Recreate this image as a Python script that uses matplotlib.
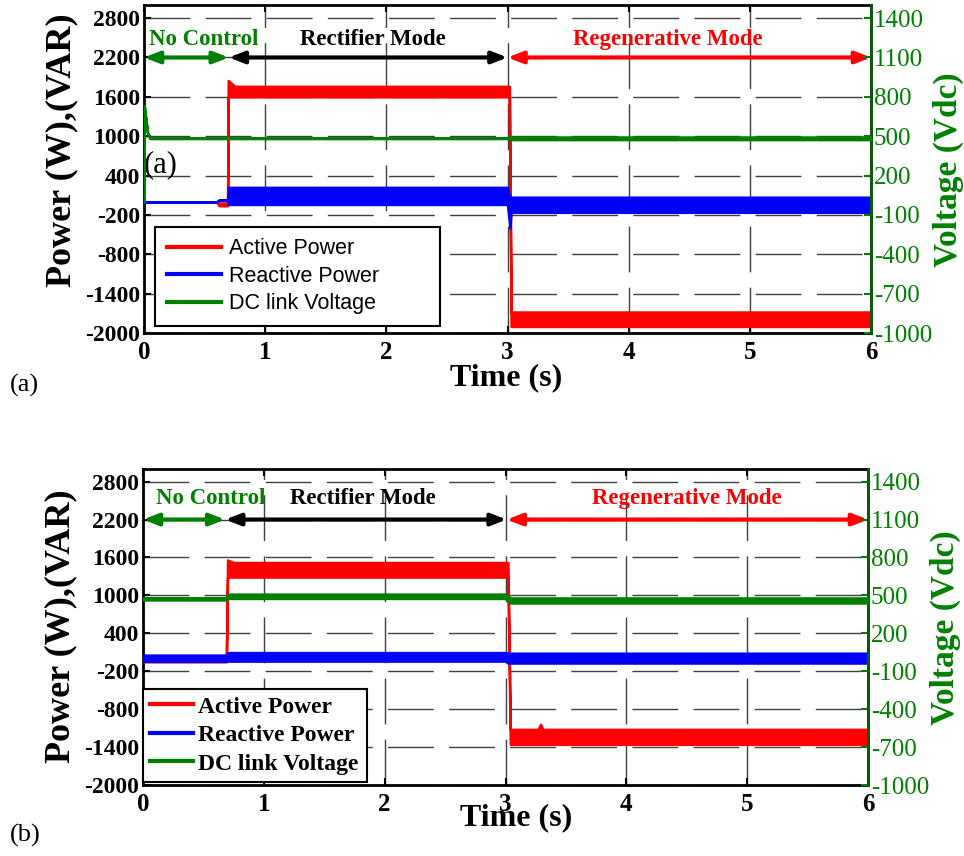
import matplotlib
matplotlib.use('Agg')
import matplotlib.pyplot as plt
from matplotlib.lines import Line2D

plt.rcParams['axes.unicode_minus'] = False

SERIF = 'Liberation Serif'
SANS = 'Liberation Sans'
RED, BLUE, GREEN = '#ff0000', '#0000ff', '#008000'

# ---------------- data: panel (a) ----------------
a_act_t  = [0.00, 0.60, 0.62, 0.69, 0.695, 0.75, 3.015, 3.03, 6.00]
a_act_lo = [0, 0, -60, -60, 1600, 1600, 1600, -1900, -1900]
a_act_hi = [0, 0, -20, -20, 1850, 1760, 1760, -1680, -1680]

a_rea_t  = [0.00, 0.60, 0.62, 0.69, 0.695, 3.00, 3.02, 3.03, 6.00]
a_rea_lo = [0, 0, 20, 20, -40, -40, -400, -160, -160]
a_rea_hi = [0, 0, 30, 30, 220, 220, 60, 70, 70]

a_dc_t  = [0.00, 0.002, 0.03, 0.05, 3.00, 3.02, 6.00]
a_dc_lo = [0, 730, 520, 482, 482, 474, 474]
a_dc_hi = [0, 730, 520, 488, 488, 494, 494]

# ---------------- data: panel (b) ----------------
b_act_t  = [0.00, 0.69, 0.70, 0.75, 3.02, 3.04, 3.27, 3.29, 3.31, 6.00]
b_act_lo = [-50, -50, 1290, 1290, 1290, -1356, -1356, -1356, -1356, -1356]
b_act_hi = [40, 40, 1560, 1520, 1520, -1120, -1120, -1040, -1120, -1120]

b_rea_t  = [0.00, 0.69, 0.70, 3.00, 3.02, 6.00]
b_rea_lo = [-43, -43, -40, -40, -70, -70]
b_rea_hi = [55, 55, 95, 95, 85, 85]

b_dc_t  = [0.00, 0.69, 0.70, 3.00, 3.04, 6.00]
b_dc_lo = [464, 464, 476, 476, 440, 440]
b_dc_hi = [482, 482, 510, 510, 480, 480]

legend_labels = ['Active Power', 'Reactive Power', 'DC link Voltage']
left_ticks = [-2000, -1400, -800, -200, 400, 1000, 1600, 2200, 2800]
right_ticks = [-1000, -700, -400, -100, 200, 500, 800, 1100, 1400]
x_ticks = [0, 1, 2, 3, 4, 5, 6]
modes = ['No Control', 'Rectifier Mode', 'Regenerative Mode']
mode_colors = [GREEN, 'black', RED]
a_mode_bounds = [0.0, 0.70, 3.0, 6.0]
b_mode_bounds = [0.0, 0.68, 3.01, 6.0]
a_mode_text_x = [0.49, 1.89, 4.32]
b_mode_text_x = [0.56, 1.82, 4.50]

W, H = 964, 856
fig = plt.figure(figsize=(W / 100, H / 100), dpi=100)


def px(x, y):
    return x / W, 1 - y / H


def band(ax, t, lo, hi, color):
    ax.fill_between(t, lo, hi, facecolor=color, edgecolor=color, linewidth=1.8, zorder=3)


def panel(rect, act, rea, dc, bounds, text_x, text_y, legend_font, legend_box,
          handlelength, handletextpad, labelspacing, borderpad):
    ax = fig.add_axes(rect)
    ax2 = ax.twinx()
    ax.set_xlim(0, 6)
    ax.set_ylim(-2000, 3000)
    ax2.set_ylim(-1000, 1500)
    ax.set_xticks(x_ticks)
    ax.set_yticks(left_ticks)
    ax2.set_yticks(right_ticks)
    ax.grid(True, color='#404040', linestyle=(0, (33, 11)), linewidth=1.0)
    ax.set_axisbelow(True)

    band(ax, *act, RED)
    band(ax, *rea, BLUE)
    band(ax2, *dc, GREEN)

    ax.tick_params(axis='both', direction='in', length=5, width=1.5, top=True,
                   labelsize=17, pad=3)
    ax.tick_params(axis='x', labelsize=18, pad=6)
    for lab in ax.get_xticklabels() + ax.get_yticklabels():
        lab.set_fontfamily(SERIF)
        lab.set_fontweight('bold')
    ax2.tick_params(axis='y', direction='in', length=5, width=1.5, colors=GREEN,
                    labelsize=18, pad=2)
    for lab in ax2.get_yticklabels():
        lab.set_fontfamily(SERIF)
    for s in ax.spines.values():
        s.set_linewidth(2)
    for k, s in ax2.spines.items():
        s.set_linewidth(2)
        if k != 'right':
            s.set_visible(False)
    ax2.spines['right'].set_color('#0b5e0b')

    # mode arrows and labels
    for i in range(3):
        ax.annotate('', xy=(bounds[i + 1], 2200), xytext=(bounds[i], 2200),
                    arrowprops=dict(arrowstyle='<|-|>,head_length=0.9,head_width=0.35',
                                    color=mode_colors[i], lw=3, shrinkA=0, shrinkB=0),
                    annotation_clip=False, zorder=5)
        ax.text(text_x[i], text_y, modes[i], color=mode_colors[i], ha='center', va='center',
                fontsize=16.5, fontweight='bold', fontfamily=SERIF, zorder=5)

    handles = [Line2D([], [], color=c, lw=3) for c in (RED, BLUE, GREEN)]
    leg = ax2.legend(handles, legend_labels, loc='lower left', bbox_to_anchor=legend_box,
                     mode='expand', borderaxespad=0, fancybox=False, framealpha=1,
                     edgecolor='black', prop=legend_font, handlelength=handlelength,
                     handletextpad=handletextpad, labelspacing=labelspacing,
                     borderpad=borderpad)
    leg.get_frame().set_linewidth(1.5)
    leg.set_zorder(10)
    return ax, ax2


# ---- panel (a) ----
axa, axa2 = panel([144 / W, 1 - 333 / H, 727 / W, 328 / H],
                  (a_act_t, a_act_lo, a_act_hi), (a_rea_t, a_rea_lo, a_rea_hi),
                  (a_dc_t, a_dc_lo, a_dc_hi), a_mode_bounds, a_mode_text_x, 2470,
                  dict(family=SANS, size=15.5), (0.015, 0.021, 0.392, 0.2),
                  2.5, 0.4, 0.3, 0.55)
axa.text(0.0, 570, '(a)', fontsize=22, fontfamily=SERIF, ha='left', va='center', zorder=6)

fig.text(*px(62, 150), 'Power (W),(VAR)', rotation=90, ha='center', va='center',
         fontsize=26, fontweight='bold', fontfamily=SERIF)
fig.text(*px(506, 378), 'Time (s)', ha='center', va='center',
         fontsize=23, fontweight='bold', fontfamily=SERIF)
fig.text(*px(948, 170), 'Voltage (Vdc)', rotation=90, ha='center', va='center',
         fontsize=24, fontweight='bold', fontfamily=SERIF, color=GREEN)
fig.text(*px(10, 385), '(a)', ha='left', va='center', fontsize=19, fontfamily=SERIF)

# ---- panel (b) ----
axb, axb2 = panel([143 / W, 1 - 785 / H, 725 / W, 316 / H],
                  (b_act_t, b_act_lo, b_act_hi), (b_rea_t, b_rea_lo, b_rea_hi),
                  (b_dc_t, b_dc_lo, b_dc_hi), b_mode_bounds, b_mode_text_x, 2530,
                  dict(family=SERIF, size=17, weight='bold'), (0.0, 0.01, 0.309, 0.2),
                  1.8, 0.25, 0.3, 0.3)

fig.text(*px(61, 626), 'Power (W),(VAR)', rotation=90, ha='center', va='center',
         fontsize=26, fontweight='bold', fontfamily=SERIF)
fig.text(*px(516, 818), 'Time (s)', ha='center', va='center',
         fontsize=23, fontweight='bold', fontfamily=SERIF)
fig.text(*px(945, 628), 'Voltage (Vdc)', rotation=90, ha='center', va='center',
         fontsize=24, fontweight='bold', fontfamily=SERIF, color=GREEN)
fig.text(*px(10, 835), '(b)', ha='left', va='center', fontsize=19, fontfamily=SERIF)

fig.savefig('out.png', dpi=100)
